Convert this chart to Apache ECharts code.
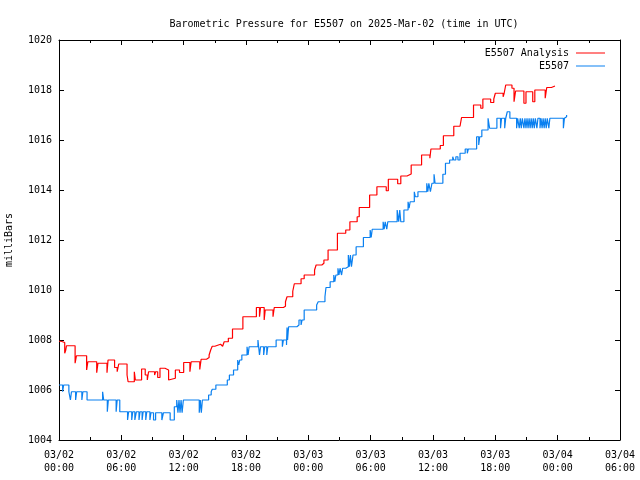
<!DOCTYPE html>
<html>
<head>
<meta charset="utf-8">
<script src="https://cdn.jsdelivr.net/npm/echarts@6/dist/echarts.min.js"></script>
<style>html,body{margin:0;padding:0;background:#fff}#c{width:640px;height:480px}</style>
</head>
<body>
<div id="c"></div>
<script>
// hours since 2025-03-02 00:00 UTC
var analysisHours = [0,0.2,0.55,0.65,0.72,1.55,1.68,2.66,2.78,3.63,3.75,4.62,4.72,5.35,5.6,5.75,6.55,6.65,7.25,7.35,7.95,8.3,8.5,8.62,9.2,9.3,9.5,9.72,10.2,10.55,10.65,11.2,11.6,12.0,12.6,12.72,13.55,13.68,14.2,14.45,14.6,14.75,15.0,15.55,15.75,15.9,16.3,16.7,17.7,19.0,19.3,19.4,19.75,19.85,20.6,20.72,21.6,21.8,21.95,22.5,22.65,23.3,23.6,24.6,24.75,25.3,25.5,25.9,26.8,27.6,28.0,28.7,28.9,29.9,30.6,31.5,31.7,32.6,32.9,33.5,33.9,34.9,35.7,35.8,36.7,37.0,38.0,38.6,38.75,39.9,40.6,40.8,41.55,41.85,42.0,42.75,42.85,43.0,43.6,43.8,43.95,44.75,44.95,45.6,45.8,46.8,46.95,47.4,47.74];
var analysisValues = [1007.95,1007.9,1007.47,1007.6,1007.77,1007.07,1007.37,1006.8,1007.13,1006.69,1007.07,1006.69,1007.2,1006.9,1006.73,1007.04,1006.6,1006.33,1006.73,1006.4,1006.84,1006.6,1006.4,1006.73,1006.6,1006.73,1006.5,1006.87,1006.8,1006.4,1006.47,1006.8,1006.7,1007.1,1006.73,1007.13,1006.82,1007.23,1007.3,1007.4,1007.6,1007.75,1007.83,1007.75,1007.67,1007.93,1008.07,1008.44,1008.93,1009.3,1008.93,1009.3,1008.8,1009.2,1008.93,1009.3,1009.35,1009.53,1009.73,1009.95,1010.25,1010.45,1010.6,1010.8,1011.0,1011.07,1011.2,1011.6,1012.27,1012.4,1012.73,1012.93,1013.3,1013.8,1014.13,1013.97,1014.43,1014.25,1014.56,1014.64,1015.0,1015.4,1015.27,1015.64,1015.78,1016.17,1016.55,1016.5,1016.9,1017.4,1017.27,1017.64,1017.5,1017.64,1017.87,1017.73,1017.87,1018.2,1018.07,1017.53,1017.96,1017.47,1017.93,1017.53,1018.0,1017.67,1018.1,1018.16,1018.16];

var stationHours = [0,0.35,0.45,0.95,1.1,1.2,1.6,1.7,2.2,2.3,2.7,4.2,4.3,4.65,4.75,5.5,5.6,5.85,6.6,6.7,7.0,7.1,7.3,7.45,7.7,7.8,8.0,8.1,8.35,8.45,8.75,8.85,9.1,9.3,9.9,10.05,10.7,11.1,11.33,11.45,11.55,11.65,11.75,11.85,11.97,13.5,13.6,13.7,13.8,14.4,14.65,14.75,15.1,16.2,16.4,16.8,17.2,17.3,17.4,17.6,18.1,18.2,18.3,19.15,19.3,19.4,19.7,19.8,20.0,20.1,20.9,21.5,21.6,21.9,21.95,22.0,22.1,22.9,23.1,23.3,23.4,23.6,24.8,24.95,25.6,25.7,26.1,26.45,26.55,26.65,26.85,26.95,27.05,27.2,27.3,27.6,27.85,27.95,28.05,28.15,28.3,28.6,29.3,29.95,30.05,30.15,31.2,31.3,31.4,31.55,31.65,32.55,32.7,32.8,32.9,33.2,33.6,33.7,33.8,34.2,34.3,34.55,35.4,35.5,35.6,35.75,35.9,36.1,36.2,36.95,37.2,37.6,37.9,38.0,38.2,38.4,38.6,39.1,39.3,39.4,40.2,40.4,40.5,40.7,41.3,41.45,42.15,42.5,42.6,42.9,43.0,43.15,43.4,44.05,44.15,44.3,44.4,44.5,44.6,44.75,44.85,44.95,45.05,45.15,45.25,45.35,45.45,45.55,45.65,45.75,45.85,46.0,46.1,46.3,46.4,46.5,46.6,46.7,46.8,46.9,47.0,47.15,47.25,48.55,48.65,48.75,48.86];
var stationValues = [1006.2,1005.93,1006.2,1005.93,1005.6,1005.93,1005.6,1005.93,1005.6,1005.93,1005.6,1005.93,1005.6,1005.13,1005.6,1005.13,1005.6,1005.13,1004.8,1005.13,1004.8,1005.13,1004.8,1005.13,1004.8,1005.13,1004.8,1005.13,1004.8,1005.13,1004.8,1005.09,1004.8,1005.09,1004.8,1005.09,1004.8,1005.33,1005.6,1005.09,1005.6,1005.09,1005.6,1005.09,1005.6,1005.09,1005.6,1005.09,1005.6,1005.8,1005.93,1006.03,1006.2,1006.4,1006.6,1006.8,1007.2,1007.0,1007.2,1007.4,1007.73,1007.4,1007.73,1008.0,1007.4,1007.73,1007.4,1007.73,1007.4,1007.73,1008.0,1007.73,1008.0,1007.8,1008.5,1008.0,1008.53,1008.6,1008.8,1008.6,1008.8,1009.2,1009.4,1009.53,1009.73,1010.1,1010.33,1010.6,1010.33,1010.6,1010.87,1010.6,1010.87,1010.6,1010.87,1010.93,1011.4,1010.93,1011.4,1010.93,1011.4,1011.73,1012.1,1012.4,1012.1,1012.43,1012.73,1012.43,1012.73,1012.43,1012.73,1013.2,1012.73,1013.2,1012.73,1013.2,1013.53,1013.27,1013.53,1013.93,1013.73,1013.93,1014.27,1013.93,1014.27,1013.93,1014.27,1014.63,1014.27,1014.63,1015.07,1015.2,1015.33,1015.2,1015.33,1015.2,1015.47,1015.64,1015.47,1015.64,1016.13,1015.8,1016.13,1016.4,1016.87,1016.47,1016.87,1016.47,1016.87,1016.47,1016.87,1017.13,1016.87,1016.47,1016.87,1016.47,1016.87,1016.47,1016.87,1016.47,1016.87,1016.47,1016.87,1016.47,1016.87,1016.47,1016.87,1016.47,1016.87,1016.47,1016.87,1016.47,1016.87,1016.47,1016.87,1016.47,1016.87,1016.47,1016.87,1016.47,1016.87,1016.47,1016.87,1016.47,1016.87,1016.93,1017.0,1017.07,1017.13];

var seriesNames = ['E5507 Analysis', 'E5507'];
var titleText = 'Barometric Pressure for E5507 on 2025-Mar-02 (time in UTC)';
var yName = 'milliBars';

function pairs(h, v) { return h.map(function (t, i) { return [t, v[i]]; }); }
function pad(n) { return (n < 10 ? '0' : '') + n; }
function xLabel(h) {
  var day = 2 + Math.floor(h / 24);
  var hh = h % 24;
  return '03/' + pad(day) + '\n' + pad(hh) + ':00';
}
var font = 'DejaVu Sans Mono';
var chart = echarts.init(document.getElementById('c'), null, {renderer: 'canvas'});
var tickStyle = {color: '#000', width: 1};
chart.setOption({
  animation: false,
  backgroundColor: '#fff',
  title: {
    text: titleText, left: 339, top: 14, textAlign: 'center',
    textStyle: {fontFamily: font, fontSize: 10, fontWeight: 'normal', color: '#000'}
  },
  legend: {
    data: seriesNames, orient: 'vertical', right: 30, top: 43, align: 'right',
    icon: 'rect', itemWidth: 29, itemHeight: 1, itemGap: 3,
    textStyle: {fontFamily: font, fontSize: 10, color: '#000', padding: [0, 2, 0, 0]}
  },
  grid: {left: 59, right: 20, top: 40, bottom: 40, containLabel: false, outerBoundsMode: 'none'},
  xAxis: [{
    type: 'value', min: 0, max: 54, interval: 6,
    axisLine: {show: true, onZero: false, lineStyle: tickStyle},
    axisTick: {show: true, inside: true, length: 5, lineStyle: tickStyle},
    minorTick: {show: true, splitNumber: 2, length: 3, lineStyle: tickStyle},
    splitLine: {show: false},
    axisLabel: {formatter: xLabel, fontFamily: font, fontSize: 10, color: '#000', margin: 9, lineHeight: 13}
  }, {
    type: 'value', min: 0, max: 54, interval: 6, position: 'top',
    axisLine: {show: true, onZero: false, lineStyle: tickStyle},
    axisTick: {show: true, inside: true, length: 5, lineStyle: tickStyle},
    minorTick: {show: true, splitNumber: 2, length: 3, lineStyle: tickStyle},
    splitLine: {show: false}, axisLabel: {show: false}
  }],
  yAxis: [{
    type: 'value', min: 1004, max: 1020, interval: 2,
    name: yName, nameLocation: 'middle', nameGap: 45, nameRotate: 90,
    nameTextStyle: {fontFamily: font, fontSize: 10, color: '#000'},
    axisLine: {show: true, onZero: false, lineStyle: tickStyle},
    axisTick: {show: true, inside: true, length: 5, lineStyle: tickStyle},
    splitLine: {show: false},
    axisLabel: {formatter: function (v) { return String(v); }, fontFamily: font, fontSize: 10, color: '#000', margin: 7}
  }, {
    type: 'value', min: 1004, max: 1020, interval: 2, position: 'right',
    axisLine: {show: true, onZero: false, lineStyle: tickStyle},
    axisTick: {show: true, inside: true, length: 5, lineStyle: tickStyle},
    splitLine: {show: false}, axisLabel: {show: false}
  }],
  series: [{
    name: seriesNames[0], type: 'line', step: 'end', showSymbol: false,
    data: pairs(analysisHours, analysisValues),
    itemStyle: {color: '#ff0000'}, lineStyle: {color: '#ff0000', width: 1.2}
  }, {
    name: seriesNames[1], type: 'line', step: 'end', showSymbol: false,
    data: pairs(stationHours, stationValues),
    itemStyle: {color: '#0a80f0'}, lineStyle: {color: '#0a80f0', width: 1.2}
  }]
});
</script>
</body>
</html>
